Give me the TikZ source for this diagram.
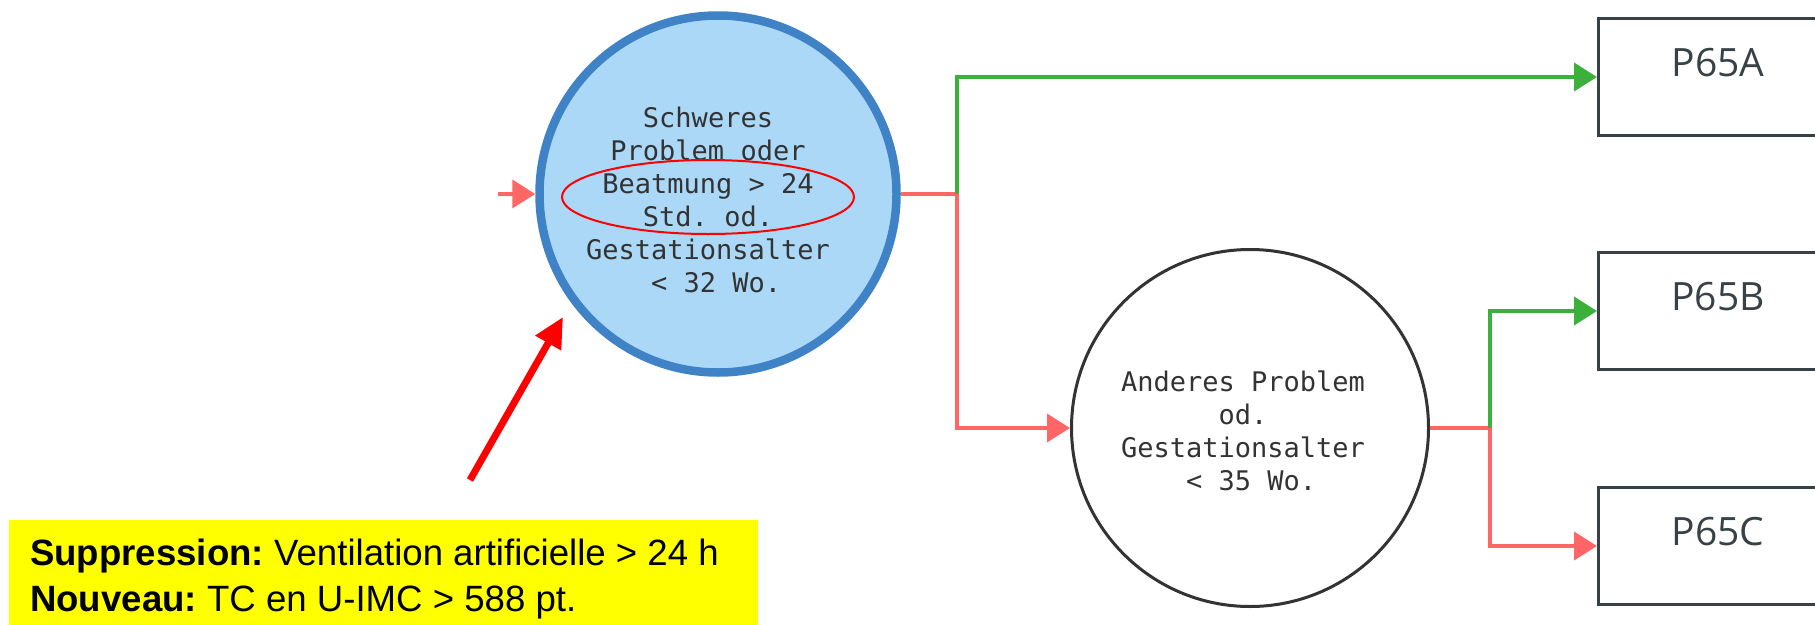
\documentclass[tikz,border=0pt]{standalone}
\usepackage{fontspec}
\setmainfont{Liberation Sans}
\newfontfamily\monof{DejaVu Sans Mono}
\newfontfamily\boxf{Open Sans}
\usetikzlibrary{arrows.meta,shapes.geometric}
\definecolor{cfill}{HTML}{ABD8F7}
\definecolor{cblue}{HTML}{3F83C6}
\definecolor{cred}{HTML}{FF6666}
\definecolor{cgreen}{HTML}{3BB03B}
\definecolor{ctext}{HTML}{333333}
\definecolor{cbox}{HTML}{384246}
\definecolor{cyellow}{HTML}{FFFF00}
\definecolor{cannot}{HTML}{FF0000}
\begin{document}
\frenchspacing
\begin{tikzpicture}[x=1pt,y=-1pt,
  tip/.style={-{Triangle[length=23pt,width=28pt]}},
  rline/.style={draw=cred,line width=4pt},
  gline/.style={draw=cgreen,line width=4pt},
  mono/.style={font=\monof\fontsize{27}{33}\selectfont,align=center,text=ctext,inner sep=0pt},
  pbox/.style={rectangle,draw=cbox,line width=3pt,minimum width=260pt,minimum height=117pt,anchor=west,inner sep=0pt},
  plabel/.style={font=\boxf\fontsize{39}{46}\selectfont,text=cbox,inner sep=0pt}]
\useasboundingbox (0,0) rectangle (1815,624);
% decision 1
\node[circle,draw=cblue,fill=cfill,line width=8.5pt,minimum size=357pt,inner sep=0pt] (c1) at (718,194) {};
\node[mono] (t1) at (708,200) {Schweres\\Problem oder\\Beatmung > 24\\Std. od.\\Gestationsalter\\\hphantom{0}< 32 Wo.};
\node[ellipse,draw=cannot,line width=2pt,minimum width=292pt,minimum height=74pt,inner sep=0pt] (ell) at (708,197) {};
% decision 2
\node[circle,draw=ctext,line width=3pt,minimum size=357pt,inner sep=0pt] (c2) at (1250,428) {};
\node[mono] (t2) at (1243,431) {Anderes Problem\\od.\\Gestationsalter\\\hphantom{0}< 35 Wo.};
% result boxes
\node[pbox] (A) at (1597,77) {};
\node[pbox] (B) at (1597,311) {};
\node[pbox] (C) at (1597,546) {};
\node[plabel] (la) at (1718,63) {P65A};
\node[plabel] (lb) at (1718,297) {P65B};
\node[plabel] (lc) at (1718,532) {P65C};
% connectors
\coordinate (in) at (498,194);
\coordinate (j1) at (957,194);
\coordinate (j2) at (1490,428);
\draw[rline,tip] (in) -- (c1.west);
\draw[rline] (c1.east) -- (j1);
\draw[gline,tip] (j1) |- (A.west);
\draw[rline,tip] (j1) |- (c2.west);
\draw[rline] (c2.east) -- (j2);
\draw[gline,tip] (j2) |- (B.west);
\draw[rline,tip] (j2) |- (C.west);
% note
\node[fill=cyellow,anchor=north west,minimum width=749pt,minimum height=120pt,inner sep=0pt] (note) at (9,520) {};
\node[anchor=base west,inner sep=0pt,font=\fontsize{36.6}{46}\selectfont] (n1) at (30,565) {\textbf{Suppression:} Ventilation artificielle > 24 h};
\node[anchor=base west,inner sep=0pt,font=\fontsize{36.6}{46}\selectfont] (n2) at (30,611) {\textbf{Nouveau:} TC en U-IMC > 588 pt.};
\coordinate (rt) at (470,480);
\coordinate (rh) at (563,317);
\draw[cannot,line width=7pt,-{Triangle[length=30pt,width=28pt]}] (rt) -- (rh);
\end{tikzpicture}
\end{document}
